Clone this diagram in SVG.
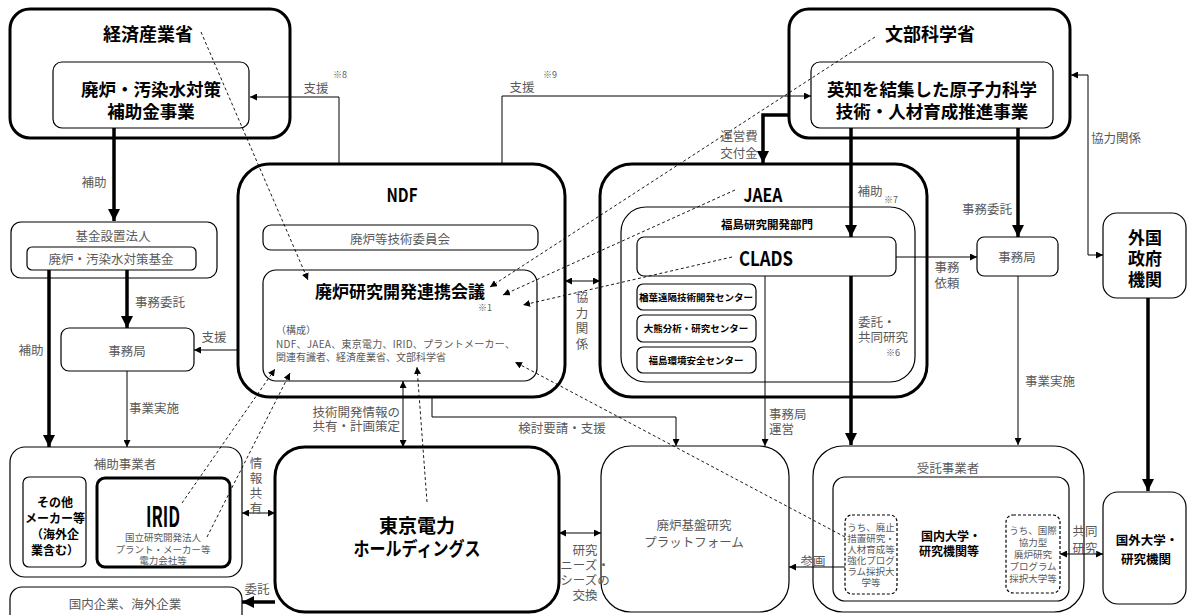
<svg xmlns="http://www.w3.org/2000/svg" width="1189" height="615" viewBox="0 0 1189 615">
<style>
text{font-family:"Noto Sans CJK JP","Noto Sans",sans-serif;text-anchor:middle;dominant-baseline:central}
.b{font-weight:700;fill:#000}
.g{fill:#595959;font-size:12.5px}
.s{fill:#595959;font-size:10px}
.t{fill:#595959;font-size:9.5px}
.n{fill:#595959;font-size:9px}
.st{text-anchor:start}
.en{text-anchor:end}
.v{writing-mode:vertical-rl;text-anchor:start}
.bx{fill:#fff;stroke:#000;stroke-width:1.2}
.bk{fill:#fff;stroke:#000;stroke-width:3}
.ds{fill:#fff;stroke:#000;stroke-width:1.2;stroke-dasharray:3 2}
.c{fill:none;stroke:#000;stroke-width:1}
.ct{fill:none;stroke:#000;stroke-width:3.5}
.cd{fill:none;stroke:#000;stroke-width:0.9;stroke-dasharray:3 2.5}
</style>
<defs>
<marker id="a" viewBox="0 0 10 10" refX="10" refY="5" markerWidth="7" markerHeight="7" markerUnits="userSpaceOnUse" orient="auto-start-reverse"><path d="M0,0 L10,5 L0,10 z" fill="#000"/></marker>
<marker id="at" viewBox="0 0 10 10" refX="10" refY="5" markerWidth="12" markerHeight="12" markerUnits="userSpaceOnUse" orient="auto-start-reverse"><path d="M0,0 L10,5 L0,10 z" fill="#000"/></marker>
</defs>

<g id="meti">
<rect class="bk" x="10" y="9" width="280" height="129" rx="20"/>
<text class="b" x="148" y="33" font-size="18">経済産業省</text>
<rect class="bx" x="53" y="62" width="196" height="66" rx="9"/>
<text class="b" x="151" y="88" font-size="17.5">廃炉・汚染水対策</text>
<text class="b" x="151" y="110" font-size="17.5">補助金事業</text>
</g>

<g id="mext">
<rect class="bk" x="789" y="9" width="281" height="129" rx="20"/>
<text class="b" x="930" y="33" font-size="18">文部科学省</text>
<rect class="bx" x="811" y="62" width="242" height="66" rx="9"/>
<text class="b" x="932" y="88" font-size="17.5">英知を結集した原子力科学</text>
<text class="b" x="932" y="110" font-size="17.5">技術・人材育成推進事業</text>
</g>

<g id="ndf">
<rect class="bk" x="238" y="164" width="327" height="233" rx="32"/>
<text class="b" x="402" y="193" font-size="19" textLength="31" lengthAdjust="spacingAndGlyphs">NDF</text>
<rect class="bx" x="263" y="225" width="275" height="25" rx="8"/>
<text class="g" x="400" y="238">廃炉等技術委員会</text>
<rect class="bx" x="263" y="270" width="274" height="111" rx="13"/>
<text class="b" x="400" y="290" font-size="17">廃炉研究開発連携会議</text>
<text class="n" x="485" y="307">※1</text>
<text class="s st" x="276" y="329">（構成）</text>
<text class="s st" x="276" y="343" textLength="239">NDF、JAEA、東京電力、IRID、プラントメーカー、</text>
<text class="s st" x="276" y="356">関連有識者、経済産業省、文部科学省</text>
</g>

<g id="jaea">
<rect class="bk" x="600" y="164" width="327" height="233" rx="32"/>
<text class="b" x="763" y="193" font-size="19" textLength="39" lengthAdjust="spacingAndGlyphs">JAEA</text>
<rect class="bx" x="621" y="207" width="294" height="175" rx="25"/>
<text class="b" x="767" y="224" font-size="11.5">福島研究開発部門</text>
<rect class="bx" x="637" y="237" width="259" height="39" rx="7"/>
<text class="b" x="766" y="257" font-size="20" textLength="54" lengthAdjust="spacingAndGlyphs">CLADS</text>
<rect class="bx" x="637" y="284" width="119" height="26" rx="6"/>
<text class="b" x="696" y="297" font-size="9.5">楢葉遠隔技術開発センター</text>
<rect class="bx" x="637" y="315" width="119" height="27" rx="6"/>
<text class="b" x="696" y="328" font-size="9.5">大熊分析・研究センター</text>
<rect class="bx" x="637" y="347" width="119" height="26" rx="6"/>
<text class="b" x="696" y="360" font-size="9.5">福島環境安全センター</text>
</g>

<g id="jimukyoku-r">
<rect class="bx" x="977" y="237" width="81" height="39" rx="7"/>
<text class="g" x="1017" y="256" font-size="13.5">事務局</text>
</g>

<g id="gaikoku">
<rect class="bx" x="1103" y="213" width="83" height="85" rx="14"/>
<text class="b" x="1145" y="236" font-size="17">外国</text>
<text class="b" x="1145" y="257" font-size="17">政府</text>
<text class="b" x="1145" y="278" font-size="17">機関</text>
</g>

<g id="kokugai">
<rect class="bx" x="1103" y="492" width="83" height="112" rx="15"/>
<text class="b" x="1147" y="539" font-size="12.5">国外大学・</text>
<text class="b" x="1146" y="558" font-size="12.5">研究機関</text>
</g>

<g id="jutaku">
<rect class="bx" x="813" y="446" width="271" height="166" rx="30"/>
<text class="g" x="948" y="467" font-size="13">受託事業者</text>
<rect class="bx" x="833" y="477" width="236" height="124" rx="12"/>
<text class="b" x="951" y="535" font-size="12">国内大学・</text>
<text class="b" x="949" y="550" font-size="12">研究機関等</text>
<rect class="ds" x="845" y="515" width="52" height="79" rx="7"/>
<text class="t" x="871" y="527">うち、廃止</text>
<text class="t" x="871" y="538">措置研究・</text>
<text class="t" x="871" y="549">人材育成等</text>
<text class="t" x="871" y="560">強化プログ</text>
<text class="t" x="871" y="571">ラム採択大</text>
<text class="t" x="871" y="582">学等</text>
<rect class="ds" x="1006" y="515" width="54" height="78" rx="7"/>
<text class="t" x="1033" y="530">うち、国際</text>
<text class="t" x="1033" y="542">協力型</text>
<text class="t" x="1033" y="554">廃炉研究</text>
<text class="t" x="1033" y="566">プログラム</text>
<text class="t" x="1033" y="578">採択大学等</text>
</g>

<g id="platform">
<rect class="bx" x="601" y="446" width="188" height="166" rx="30"/>
<text class="g" x="694" y="524" font-size="13">廃炉基盤研究</text>
<text class="g" x="694" y="541" font-size="13">プラットフォーム</text>
</g>

<g id="tepco">
<rect class="bk" x="275" y="447" width="284" height="165" rx="30"/>
<text class="b" x="417" y="524" font-size="19">東京電力</text>
<text class="b" x="417" y="547" font-size="19" textLength="127" lengthAdjust="spacingAndGlyphs">ホールディングス</text>
</g>

<g id="hojo-jigyosha">
<rect class="bx" x="10" y="447" width="232" height="130" rx="15"/>
<text class="g" x="125" y="463">補助事業者</text>
<rect class="bx" x="23" y="477" width="63" height="90" rx="6"/>
<text class="b" x="55" y="501" font-size="12">その他</text>
<text class="b" x="55" y="517" font-size="12">メーカー等</text>
<text class="b" x="55" y="533" font-size="12">（海外企</text>
<text class="b" x="55" y="549" font-size="12">業含む）</text>
<rect class="bk" x="97" y="478" width="133" height="89" rx="8"/>
<text class="b" x="163" y="515" font-size="28" textLength="34" lengthAdjust="spacingAndGlyphs">IRID</text>
<text class="t" x="163" y="537">国立研究開発法人</text>
<text class="t" x="163" y="548.5">プラント・メーカー等</text>
<text class="t" x="163" y="560">電力会社等</text>
</g>

<g id="kokunai">
<rect class="bx" x="10" y="587" width="232" height="40" rx="12"/>
<text class="g" x="125" y="603" font-size="13">国内企業、海外企業</text>
</g>

<g id="kikin">
<rect class="bx" x="11" y="222" width="206" height="56" rx="10"/>
<text class="g" x="113" y="235" font-size="13">基金設置法人</text>
<rect class="bx" x="27" y="247" width="169" height="23" rx="5"/>
<text class="g" x="111" y="258" font-size="11.5">廃炉・汚染水対策基金</text>
</g>

<g id="jimukyoku-l">
<rect class="bx" x="61" y="328" width="133" height="43" rx="8"/>
<text class="g" x="127" y="350" font-size="13.5">事務局</text>
</g>

<g id="connectors">
<path class="ct" d="M114,128 V221" marker-end="url(#at)"/>
<path class="c" d="M339,164 V97 H250" marker-end="url(#a)"/>
<path class="c" d="M502,164 V96 H811" marker-end="url(#a)"/>
<path class="ct" d="M789,115 H763 V163" marker-end="url(#at)"/>
<path class="ct" d="M851,128 V237" marker-end="url(#at)"/>
<path class="ct" d="M851,276 V445" marker-end="url(#at)"/>
<path class="ct" d="M1018,128 V237" marker-end="url(#at)"/>
<path class="c" d="M1071,75 H1088 V255 H1103" marker-start="url(#a)" marker-end="url(#a)"/>
<path class="ct" d="M1148,298 V491" marker-end="url(#at)"/>
<path class="c" d="M896,257 H977" marker-end="url(#a)"/>
<path class="c" d="M1018,276 V445" marker-end="url(#a)"/>
<path class="c" d="M765,276 V446" marker-end="url(#a)"/>
<path class="c" d="M565,281 H600" marker-start="url(#a)" marker-end="url(#a)"/>
<path class="c" d="M403,381 V447" marker-start="url(#a)" marker-end="url(#a)"/>
<path class="c" d="M432,397 V417 H676 V446" marker-end="url(#a)"/>
<path class="c" d="M238,350 H194" marker-end="url(#a)"/>
<path class="ct" d="M127,270 V328" marker-end="url(#at)"/>
<path class="ct" d="M49,270 V447" marker-end="url(#at)"/>
<path class="c" d="M127,371 V447" marker-end="url(#a)"/>
<path class="c" d="M242,513 H275" marker-start="url(#a)" marker-end="url(#a)"/>
<path class="ct" d="M275,602 H242" marker-end="url(#at)"/>
<path class="c" d="M559,533 H601" marker-start="url(#a)" marker-end="url(#a)"/>
<path class="c" d="M845,567 H789" marker-end="url(#a)"/>
<path class="c" d="M1060,554 H1103" marker-start="url(#a)" marker-end="url(#a)"/>
<path class="cd" d="M201,32 L308,280" marker-end="url(#a)"/>
<path class="cd" d="M875,37 L490,287" marker-end="url(#a)"/>
<path class="cd" d="M735,190 L503,295" marker-end="url(#a)"/>
<path class="cd" d="M732,257 L523,305" marker-end="url(#a)"/>
<path class="cd" d="M845,537 L515,362" marker-end="url(#a)"/>
<path class="cd" d="M182,503 L275,369" marker-end="url(#a)"/>
<path class="cd" d="M207,537 L290,373" marker-end="url(#a)"/>
<path class="cd" d="M427,502 L417,367" marker-end="url(#a)"/>
<text class="g" x="94" y="181">補助</text>
<text class="g" x="316" y="87">支援</text>
<text class="n" x="340" y="74">※8</text>
<text class="g" x="522" y="86">支援</text>
<text class="n" x="550" y="74">※9</text>
<text class="g" x="739" y="135">運営費</text>
<text class="g" x="739" y="152">交付金</text>
<text class="g" x="870" y="190">補助</text>
<text class="n" x="891" y="199">※7</text>
<text class="g" x="987" y="208">事務委託</text>
<text class="g st" x="1091" y="137">協力関係</text>
<text class="g" x="947" y="266">事務</text>
<text class="g" x="947" y="282">依頼</text>
<text class="g st" x="858" y="321" font-size="12">委託・</text>
<text class="g st" x="858" y="336" font-size="12">共同研究</text>
<text class="n" x="893" y="352">※6</text>
<text class="g" x="1050" y="380">事業実施</text>
<text class="g st" x="769" y="413">事務局</text>
<text class="g st" x="769" y="428">運営</text>
<text class="g v" x="582" y="291" font-size="12" letter-spacing="3">協力関係</text>
<text class="g en" x="400" y="411" font-size="12">技術開発情報の</text>
<text class="g en" x="400" y="425" font-size="12">共有・計画策定</text>
<text class="g" x="562" y="427">検討要請・支援</text>
<text class="g" x="214" y="336">支援</text>
<text class="g" x="160" y="301">事務委託</text>
<text class="g" x="31" y="349">補助</text>
<text class="g" x="154" y="407">事業実施</text>
<text class="g v" x="256" y="457" font-size="11.5" letter-spacing="2.5">情報共有</text>
<text class="g" x="257" y="588">委託</text>
<text class="g" x="585" y="549" font-size="12">研究</text>
<text class="g" x="585" y="564" font-size="12">ニーズ・</text>
<text class="g" x="585" y="579" font-size="12">シーズの</text>
<text class="g" x="585" y="594" font-size="12">交換</text>
<text class="g" x="813" y="560">参画</text>
<text class="g" x="1085" y="530">共同</text>
<text class="g" x="1085" y="547">研究</text>
</g>
</svg>
